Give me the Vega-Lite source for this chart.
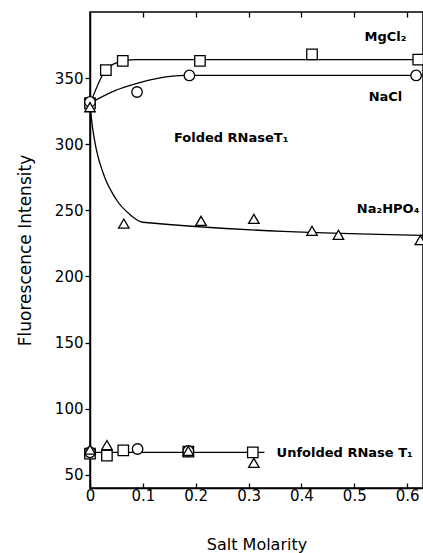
{
  "$schema": "https://vega.github.io/schema/vega-lite/v6.json",
  "width": 333,
  "height": 476,
  "autosize": {"type": "none"},
  "padding": {"left": 90, "top": 12, "right": 0, "bottom": 65},
  "background": "white",
  "config": {
    "font": "DejaVu Sans",
    "view": {"stroke": "black", "strokeWidth": 1.5},
    "axis": {
      "domainColor": "black",
      "domainWidth": 1.5,
      "tickColor": "black",
      "tickWidth": 1.3,
      "labelColor": "black",
      "titleColor": "black",
      "grid": false
    }
  },
  "datasets": {
    "fits": [
      {"curve": "MgCl2", "x": 0, "y": 330},
      {"curve": "MgCl2", "x": 0.03, "y": 356},
      {"curve": "MgCl2", "x": 0.062, "y": 363},
      {"curve": "MgCl2", "x": 0.09, "y": 364},
      {"curve": "MgCl2", "x": 0.63, "y": 364},
      {"curve": "NaCl", "x": 0, "y": 331},
      {"curve": "NaCl", "x": 0.044, "y": 340},
      {"curve": "NaCl", "x": 0.089, "y": 346},
      {"curve": "NaCl", "x": 0.13, "y": 350},
      {"curve": "NaCl", "x": 0.18, "y": 352},
      {"curve": "NaCl", "x": 0.63, "y": 352},
      {"curve": "Na2HPO4", "x": 0, "y": 330},
      {"curve": "Na2HPO4", "x": 0.005, "y": 312},
      {"curve": "Na2HPO4", "x": 0.012, "y": 296},
      {"curve": "Na2HPO4", "x": 0.025, "y": 278},
      {"curve": "Na2HPO4", "x": 0.05, "y": 258},
      {"curve": "Na2HPO4", "x": 0.075, "y": 247},
      {"curve": "Na2HPO4", "x": 0.1, "y": 241},
      {"curve": "Na2HPO4", "x": 0.63, "y": 231},
      {"curve": "Unfolded", "x": 0, "y": 67},
      {"curve": "Unfolded", "x": 0.33, "y": 67}
    ],
    "points": [
      {"salt": "MgCl2", "x": 0, "y": 331},
      {"salt": "MgCl2", "x": 0.03, "y": 356},
      {"salt": "MgCl2", "x": 0.062, "y": 363},
      {"salt": "MgCl2", "x": 0.208, "y": 363},
      {"salt": "MgCl2", "x": 0.42, "y": 368},
      {"salt": "MgCl2", "x": 0.621, "y": 364},
      {"salt": "NaCl", "x": 0, "y": 332},
      {"salt": "NaCl", "x": 0.089, "y": 339.5},
      {"salt": "NaCl", "x": 0.188, "y": 352},
      {"salt": "NaCl", "x": 0.617, "y": 352},
      {"salt": "Na2HPO4", "x": 0, "y": 328},
      {"salt": "Na2HPO4", "x": 0.064, "y": 240},
      {"salt": "Na2HPO4", "x": 0.21, "y": 242},
      {"salt": "Na2HPO4", "x": 0.31, "y": 243.5},
      {"salt": "Na2HPO4", "x": 0.42, "y": 234.5},
      {"salt": "Na2HPO4", "x": 0.47, "y": 231.5},
      {"salt": "Na2HPO4", "x": 0.625, "y": 227.5},
      {"salt": "MgCl2", "x": 0, "y": 66},
      {"salt": "MgCl2", "x": 0.032, "y": 64.5},
      {"salt": "MgCl2", "x": 0.063, "y": 68.5},
      {"salt": "MgCl2", "x": 0.186, "y": 67.5},
      {"salt": "MgCl2", "x": 0.308, "y": 67},
      {"salt": "NaCl", "x": 0, "y": 67},
      {"salt": "NaCl", "x": 0.09, "y": 69.5},
      {"salt": "NaCl", "x": 0.186, "y": 68},
      {"salt": "Na2HPO4", "x": 0, "y": 69},
      {"salt": "Na2HPO4", "x": 0.032, "y": 72.5},
      {"salt": "Na2HPO4", "x": 0.186, "y": 68},
      {"salt": "Na2HPO4", "x": 0.31, "y": 59}
    ],
    "labels": [
      {"text": "MgCl₂", "x": 0.559, "y": 381},
      {"text": "NaCl", "x": 0.559, "y": 336},
      {"text": "Folded RNaseT₁", "x": 0.267, "y": 305},
      {"text": "Na₂HPO₄", "x": 0.564, "y": 251}
    ],
    "leftLabels": [
      {"text": "Unfolded RNase T₁", "x": 0.353, "y": 66.6}
    ]
  },
  "resolve": {"axis": {"x": "independent"}},
  "layer": [
    {
      "data": {"name": "fits"},
      "mark": {"type": "line", "color": "black", "strokeWidth": 1.3, "interpolate": "monotone"},
      "encoding": {
        "x": {
          "field": "x", "type": "quantitative",
          "scale": {"domain": [0, 0.63], "nice": false, "zero": false},
          "axis": {
            "orient": "bottom",
            "title": "Salt Molarity",
            "values": [0, 0.1, 0.2, 0.3, 0.4, 0.5, 0.6],
            "labelExpr": "datum.value == 0 ? '0' : format(datum.value, '.1f')",
            "labelFlush": false,
            "tickSize": -5,
            "labelPadding": 5,
            "labelFontSize": 15,
            "titleFontSize": 16,
            "titleFontWeight": "normal",
            "titlePadding": 33
          }
        },
        "y": {
          "field": "y", "type": "quantitative",
          "scale": {"domain": [40, 400], "nice": false, "zero": false},
          "axis": {
            "title": "Fluorescence Intensity",
            "values": [50, 100, 150, 200, 250, 300, 350],
            "tickSize": 5,
            "labelPadding": 2,
            "labelFontSize": 15,
            "titleFontSize": 17,
            "titleFontWeight": "normal",
            "titlePadding": 20
          }
        },
        "detail": {"field": "curve"}
      }
    },
    {
      "data": {"name": "points"},
      "mark": {"type": "point", "filled": true, "fill": "white", "stroke": "black", "strokeWidth": 1.3, "opacity": 1},
      "encoding": {
        "x": {
          "field": "x", "type": "quantitative",
          "axis": {
            "orient": "top",
            "title": null,
            "labels": false,
            "domain": false,
            "values": [0.1, 0.2, 0.3, 0.4, 0.5, 0.6],
            "tickSize": -5
          }
        },
        "y": {"field": "y", "type": "quantitative"},
        "shape": {
          "field": "salt", "type": "nominal",
          "scale": {"domain": ["MgCl2", "NaCl", "Na2HPO4"], "range": ["square", "circle", "triangle-up"]},
          "legend": null
        },
        "size": {"value": 110}
      }
    },
    {
      "data": {"name": "labels"},
      "mark": {"type": "text", "fontSize": 13, "fontWeight": "bold", "color": "black", "baseline": "middle", "align": "center"},
      "encoding": {
        "x": {"field": "x", "type": "quantitative", "axis": null},
        "y": {"field": "y", "type": "quantitative"},
        "text": {"field": "text"}
      }
    },
    {
      "data": {"name": "leftLabels"},
      "mark": {"type": "text", "fontSize": 13, "fontWeight": "bold", "color": "black", "baseline": "middle", "align": "left"},
      "encoding": {
        "x": {"field": "x", "type": "quantitative", "axis": null},
        "y": {"field": "y", "type": "quantitative"},
        "text": {"field": "text"}
      }
    }
  ]
}
